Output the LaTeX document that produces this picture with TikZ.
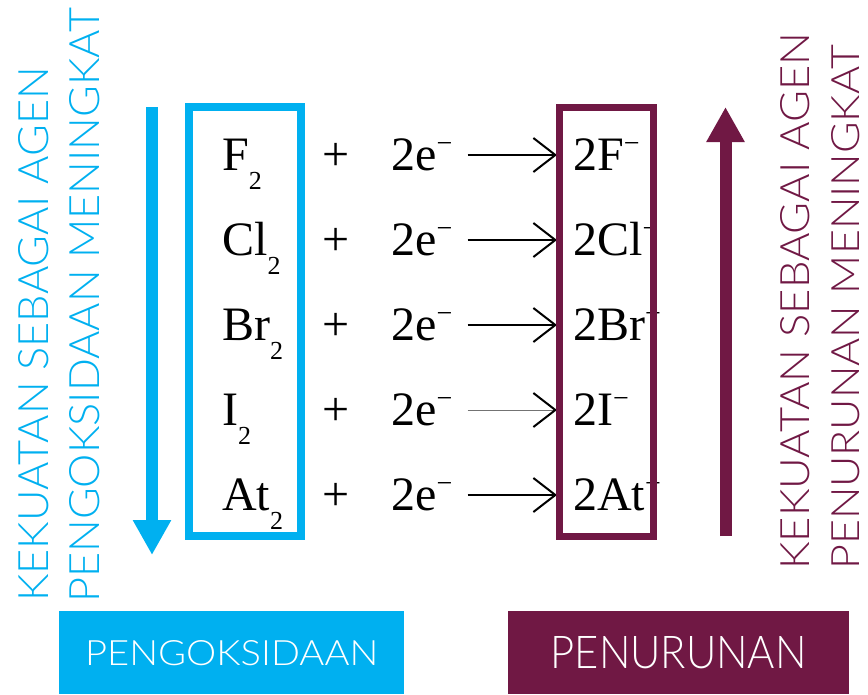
\documentclass[tikz,border=0pt]{standalone}
\usepackage{fontspec}
\usepackage{graphicx}
\usetikzlibrary{arrows.meta}
\newfontfamily\eqfont{Liberation Serif}
\IfFontExistsTF{Lato Light}{\newfontfamily\thinfont{Lato Light}}{\newfontfamily\thinfont{Lato}}
\definecolor{oxblue}{RGB}{0,176,240}
\definecolor{redpurple}{RGB}{112,24,68}
\newcommand{\chsub}[1]{\raisebox{-19pt}{\fontsize{26}{26}\selectfont #1}}
\newcommand{\chminus}{\raisebox{18pt}{\fontsize{28}{28}\selectfont −}}
\tikzset{
  eqtext/.style={font=\eqfont\fontsize{48}{48}\selectfont, inner sep=0pt, anchor=base west, text=black},
  pluscol/.style={font=\eqfont\fontsize{48}{48}\selectfont, inner sep=0pt, anchor=base, text=black},
  rxn/.style={line width=2pt, black, -{Straight Barb[length=22pt,width=34pt]}},
  rxnthin/.style={line width=1pt, black!55, -{Straight Barb[length=22pt,width=34pt,line width=2pt,color=black]}},
  sidetext/.style={rotate=90, anchor=south west, inner sep=0pt, font=\thinfont},
  bigarrow/.style={line width=12pt, -{Triangle[length=35pt,width=36pt]}},
  colbox/.style={draw, fill=none, inner sep=0pt},
  labelbox/.style={inner sep=0pt, anchor=north west, text=white, font=\thinfont},
}
\begin{document}
\begin{tikzpicture}[x=1pt,y=-1pt]
\useasboundingbox (0,0) rectangle (868,694);

% side texts
\node[sidetext, text=oxblue] (l1) at (49,602) {\resizebox{535pt}{30pt}{KEKUATAN SEBAGAI AGEN}};
\node[sidetext, text=oxblue] (l2) at (100,603) {\resizebox{595pt}{30pt}{PENGOKSIDAAN MENINGKAT}};
\node[sidetext, text=redpurple] (r1) at (810,570) {\resizebox{537pt}{29pt}{KEKUATAN SEBAGAI AGEN}};
\node[sidetext, text=redpurple] (r2) at (860,570) {\resizebox{525pt}{28pt}{PENURUNAN MENINGKAT}};

% big arrows
\coordinate (btop) at (152,107);
\coordinate (bbot) at (152,555);
\draw[bigarrow, oxblue] (btop) -- (bbot);
\coordinate (ptop) at (725.5,107);
\coordinate (pbot) at (725.5,536);
\draw[bigarrow, redpurple] (pbot) -- (ptop);

% equations
\node[eqtext] (a1) at (222,170) {F\chsub{2}};
\node[eqtext] (a2) at (222,255) {Cl\chsub{2}};
\node[eqtext] (a3) at (222,340) {Br\chsub{2}};
\node[eqtext] (a4) at (222,425) {I\chsub{2}};
\node[eqtext] (a5) at (222,510) {At\chsub{2}};

\node[pluscol] (s1) at (336.5,170) {+};
\node[pluscol] (s2) at (336.5,255) {+};
\node[pluscol] (s3) at (336.5,340) {+};
\node[pluscol] (s4) at (336.5,425) {+};
\node[pluscol] (s5) at (336.5,510) {+};

\node[eqtext] (e1) at (391,170) {2e\chminus};
\node[eqtext] (e2) at (391,255) {2e\chminus};
\node[eqtext] (e3) at (391,340) {2e\chminus};
\node[eqtext] (e4) at (391,425) {2e\chminus};
\node[eqtext] (e5) at (391,510) {2e\chminus};

\node[eqtext] (p1) at (573,170) {2F\chminus};
\node[eqtext] (p2) at (573,255) {2Cl\chminus};
\node[eqtext] (p3) at (573,340) {2Br\chminus};
\node[eqtext] (p4) at (573,425) {2I\chminus};
\node[eqtext] (p5) at (573,510) {2At\chminus};

\draw[rxn] ([xshift=15pt,yshift=15pt]e1.base east) -- ([xshift=-16pt,yshift=15pt]p1.base west);
\draw[rxn] ([xshift=15pt,yshift=15pt]e2.base east) -- ([xshift=-16pt,yshift=15pt]p2.base west);
\draw[rxn] ([xshift=15pt,yshift=15pt]e3.base east) -- ([xshift=-16pt,yshift=15pt]p3.base west);
\draw[rxnthin] ([xshift=15pt,yshift=15pt]e4.base east) -- ([xshift=-16pt,yshift=15pt]p4.base west);
\draw[rxn] ([xshift=15pt,yshift=15pt]e5.base east) -- ([xshift=-16pt,yshift=15pt]p5.base west);

% column boxes
\node[colbox, draw=oxblue, line width=8pt, minimum width=112pt, minimum height=429pt] (oxcol) at (244.5,321.5) {};
\node[colbox, draw=redpurple, line width=7pt, minimum width=94pt, minimum height=429pt] (redcol) at (606.5,321.5) {};

% bottom labels
\node[labelbox, fill=oxblue, minimum width=345pt, minimum height=83pt] (oxlabel) at (59,611) {\resizebox{293pt}{25pt}{PENGOKSIDAAN}};
\node[labelbox, fill=redpurple, minimum width=341pt, minimum height=83pt] (redlabel) at (508,611) {\resizebox{256pt}{32pt}{PENURUNAN}};
\end{tikzpicture}
\end{document}
